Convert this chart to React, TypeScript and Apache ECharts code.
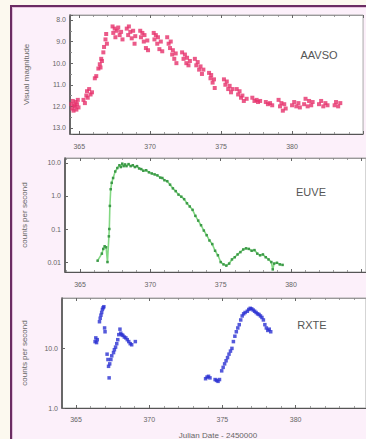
import React, { useEffect, useRef } from "react";
import * as echarts from "echarts";

// ---- data ----
const panelNames = ["AAVSO", "EUVE", "RXTE"];
const yTitles = ["Visual magnitude", "counts per second", "counts per second"];
const xTitle = "Julian Date - 2450000";

// AAVSO visual magnitudes [JD-2450000, mag]
const aavso: [number, number][] = [
  [364.45, 11.9], [364.5, 12.1], [364.55, 11.75], [364.6, 12.2], [364.65, 11.95], [364.7, 12.0],
  [364.75, 11.8], [364.8, 12.15], [364.85, 11.9], [364.9, 11.7], [364.95, 12.05],
  [365.3, 11.7], [365.4, 11.85], [365.5, 11.5], [365.55, 11.3], [365.6, 11.6], [365.7, 11.2],
  [365.8, 11.45], [365.9, 11.35],
  [366.1, 10.7], [366.2, 10.6],
  [366.35, 10.25], [366.45, 10.05], [366.5, 10.2], [366.55, 9.8], [366.6, 9.9], [366.7, 9.5],
  [366.75, 9.25], [366.85, 8.9], [366.9, 8.65], [366.95, 9.1],
  [367.35, 8.3], [367.4, 8.6], [367.5, 8.4], [367.55, 8.8], [367.65, 8.5], [367.75, 8.35],
  [367.85, 8.7], [367.95, 8.55], [368.05, 8.9],
  [368.35, 8.4], [368.45, 8.7], [368.5, 8.3], [368.6, 8.55], [368.7, 8.85], [368.8, 8.5],
  [368.9, 9.1], [368.95, 8.75],
  [369.3, 8.5], [369.35, 8.8], [369.45, 8.6], [369.55, 9.0], [369.6, 8.7], [369.7, 9.3],
  [369.8, 8.95], [369.85, 9.4],
  [370.25, 8.6], [370.3, 8.9], [370.4, 8.7], [370.5, 9.1], [370.55, 8.8], [370.65, 9.35],
  [370.75, 9.0], [370.85, 9.45],
  [371.2, 8.8], [371.3, 9.1], [371.4, 9.3], [371.45, 9.0], [371.55, 9.6], [371.6, 9.4],
  [371.7, 9.8], [371.8, 9.55], [371.85, 10.0],
  [372.25, 9.5], [372.35, 9.8], [372.45, 9.6], [372.55, 10.0], [372.6, 9.75], [372.7, 10.1],
  [372.8, 9.9],
  [373.15, 9.8], [373.25, 10.1], [373.35, 9.95], [373.45, 10.3], [373.55, 10.15], [373.65, 10.5],
  [373.75, 10.3],
  [374.15, 10.45], [374.25, 10.7], [374.3, 10.55], [374.4, 10.9], [374.5, 10.75], [374.55, 11.15],
  [375.2, 10.75], [375.3, 11.0], [375.4, 10.85], [375.5, 11.2], [375.6, 11.05], [375.7, 11.35],
  [375.8, 11.2],
  [376.1, 11.2], [376.2, 11.45], [376.3, 11.3], [376.4, 11.6], [376.5, 11.5], [376.6, 11.75],
  [376.8, 11.65],
  [377.2, 11.6], [377.35, 11.75], [377.5, 11.7], [377.6, 11.8], [377.75, 11.75],
  [378.15, 11.8], [378.3, 11.9], [378.45, 11.85], [378.6, 11.95],
  [379.05, 11.7], [379.15, 12.0], [379.25, 11.85], [379.35, 12.2], [379.45, 11.9], [379.55, 12.1],
  [380.0, 11.95], [380.15, 11.8], [380.3, 12.0], [380.45, 11.85], [380.55, 12.05],
  [380.85, 11.9], [380.95, 11.65], [381.1, 12.0], [381.2, 11.75], [381.35, 11.95], [381.45, 11.8],
  [381.9, 11.9], [382.05, 11.75], [382.2, 12.0], [382.35, 11.85], [382.5, 11.95],
  [383.0, 11.95], [383.1, 11.8], [383.25, 12.0], [383.4, 11.85],
];

// EUVE count rate [JD-2450000, counts/s]
const euve: [number, number][] = [
  [366.25, 0.011], [366.55, 0.018], [366.65, 0.025], [366.75, 0.03], [366.85, 0.028], [366.95, 0.01],
  [367.05, 0.06], [367.08, 0.1], [367.12, 0.5], [367.18, 1.6], [367.25, 2.5], [367.35, 3.5],
  [367.5, 5.5], [367.65, 7], [367.8, 8.5], [367.9, 7.5], [368.0, 9.5], [368.1, 8], [368.2, 9],
  [368.3, 8], [368.45, 9.2], [368.6, 8], [368.75, 8.5], [368.9, 7.5], [369.05, 8], [369.2, 6.8],
  [369.35, 6.5], [369.5, 5.8], [369.7, 6], [369.9, 5.2], [370.1, 4.8], [370.3, 4.5], [370.5, 4.2],
  [370.7, 3.6], [370.85, 3.5], [371.0, 3.0], [371.2, 2.8], [371.4, 2.2], [371.6, 1.7], [371.8, 1.4],
  [372.0, 1.1], [372.2, 0.95], [372.4, 0.8], [372.6, 0.6], [372.8, 0.48], [373.0, 0.38],
  [373.2, 0.25], [373.4, 0.18], [373.6, 0.13], [373.8, 0.09], [374.0, 0.065], [374.2, 0.045],
  [374.4, 0.035], [374.6, 0.022], [374.8, 0.016], [375.0, 0.01], [375.2, 0.0085], [375.4, 0.0078],
  [375.6, 0.009], [375.8, 0.012], [376.0, 0.014], [376.2, 0.017], [376.4, 0.02], [376.6, 0.024],
  [376.8, 0.026], [377.0, 0.025], [377.2, 0.022], [377.4, 0.023], [377.6, 0.018], [377.8, 0.016],
  [378.0, 0.017], [378.2, 0.014], [378.4, 0.012], [378.6, 0.01], [378.7, 0.006], [378.8, 0.009],
  [379.0, 0.0095], [379.2, 0.0085], [379.4, 0.0082],
];

// RXTE count rate [JD-2450000, counts/s]
const rxte: [number, number][] = [
  [366.3, 13], [366.35, 15], [366.4, 12.5], [366.45, 14],
  [366.6, 28], [366.65, 32], [366.7, 36], [366.75, 40], [366.8, 45], [366.85, 48], [366.9, 50],
  [366.95, 22], [366.98, 19],
  [367.12, 8], [367.18, 6.5], [367.22, 5], [367.26, 3.2], [367.3, 5.5], [367.38, 6.5], [367.44, 7.5],
  [367.56, 8.5], [367.62, 9.5], [367.7, 10.5], [367.78, 12], [367.85, 14], [367.92, 17], [368.0, 21],
  [368.05, 18], [368.12, 17], [368.2, 16.5], [368.3, 15.5], [368.4, 15], [368.5, 14], [368.6, 13],
  [368.7, 12], [368.8, 11.5], [369.05, 13],
  [373.85, 3.1], [373.95, 3.3], [374.05, 3.4], [374.15, 3.2],
  [374.5, 3.0], [374.6, 2.9], [374.7, 2.8], [374.8, 3.0],
  [374.95, 4.2], [375.05, 4.8], [375.15, 5.5], [375.25, 6.2], [375.35, 7], [375.45, 8], [375.55, 9],
  [375.65, 10], [375.75, 13], [375.85, 16], [375.95, 19], [376.05, 22], [376.15, 25], [376.25, 30],
  [376.35, 35], [376.45, 38], [376.55, 40], [376.7, 42], [376.8, 45], [376.9, 47], [377.0, 46],
  [377.1, 44], [377.2, 42], [377.3, 40], [377.4, 38], [377.5, 37], [377.6, 35], [377.7, 33],
  [377.8, 30], [377.9, 25], [378.0, 22], [378.1, 20], [378.2, 21], [378.3, 19],
];

// axis ranges (x max computed from width); labels shown only up to this value
const xMins = [364.35, 363.93, 364.04];
const xLabelMax = 382;
const yRanges: [number, number][] = [[7.77, 13.28], [0.005, 14.1], [1, 70]];

const FONT = "'Liberation Sans', Arial, sans-serif";
const grids = [
  { left: 70, top: 15, height: 119, pxPerDay: 15.3 },
  { left: 65, top: 158, height: 114, pxPerDay: 15.0 },
  { left: 62, top: 298, height: 110, pxPerDay: 15.6 },
];
const nameGaps = [40, 36.5, 33.5];
const labelMargins = [9, 9, 8];
const RIGHT_EDGE = 386;

function logFmt(v: number) {
  if (v >= 1) return v.toFixed(1);
  return String(Number(v.toPrecision(1)));
}

export default function App() {
  const ref = useRef<HTMLDivElement>(null);
  useEffect(() => {
    if (!ref.current) return;
    const chart = echarts.init(ref.current, null, { renderer: "svg" });
    const tickStyle = { inside: true, length: 3, lineStyle: { color: "#666", width: 1 } };
    const minor = { show: true, splitNumber: 5, length: 2, lineStyle: { color: "#888", width: 0.8 } };
    const xAxes: any[] = [];
    const yAxes: any[] = [];
    const widths = grids.map((g) => RIGHT_EDGE - g.left);
    const xMaxs = grids.map((g, i) => xMins[i] + widths[i] / g.pxPerDay);
    grids.forEach((g, i) => {
      xAxes.push({
        type: "value",
        gridIndex: i,
        min: xMins[i],
        max: xMaxs[i],
        position: "bottom",
        axisLine: { show: true, lineStyle: { color: "#555", width: 1.2 } },
        axisTick: tickStyle,
        minorTick: minor,
        splitLine: { show: false },
        axisLabel: {
          showMinLabel: false,
          showMaxLabel: false,
          fontSize: 7,
          color: "#666",
          fontFamily: FONT,
          margin: labelMargins[i],
          formatter: (v: number) => (v > xLabelMax ? "" : String(Math.round(v))),
        },
      });
      xAxes.push({
        type: "value",
        gridIndex: i,
        min: xMins[i],
        max: xMaxs[i],
        position: "top",
        axisLine: { show: true, lineStyle: { color: "#999", width: 1 } },
        axisTick: tickStyle,
        minorTick: minor,
        splitLine: { show: false },
        axisLabel: { show: false },
      });
      const isLog = i > 0;
      yAxes.push({
        type: isLog ? "log" : "value",
        gridIndex: i,
        min: yRanges[i][0],
        max: yRanges[i][1],
        inverse: !isLog,
        name: yTitles[i],
        nameLocation: "middle",
        nameGap: nameGaps[i],
        nameTextStyle: { fontSize: 8, color: "#666", fontFamily: FONT },
        axisLine: { show: true, lineStyle: { color: "#444", width: 1.5 } },
        axisTick: tickStyle,
        minorTick: isLog ? { show: false } : { show: true, splitNumber: 2, length: 2, lineStyle: { color: "#888" } },
        splitLine: { show: false },
        axisLabel: {
          showMinLabel: i === 2,
          showMaxLabel: false,
          fontSize: 7,
          color: "#666",
          fontFamily: FONT,
          margin: 4,
          formatter: (v: number) => (isLog ? logFmt(v) : v.toFixed(1)),
        },
      });
    });

    chart.setOption({
      animation: false,
      backgroundColor: "transparent",
      grid: grids.map((g, i) => ({
        left: g.left,
        top: g.top,
        height: g.height,
        width: widths[i],
        show: true,
        backgroundColor: "#ffffff",
        borderColor: "#aaa",
        borderWidth: 1,
      })),
      xAxis: xAxes,
      yAxis: yAxes,
      series: [
        {
          type: "scatter",
          xAxisIndex: 0,
          yAxisIndex: 0,
          data: aavso,
          symbol: "rect",
          symbolSize: 4,
          itemStyle: { color: "#e6316c" },
        },
        {
          type: "line",
          xAxisIndex: 2,
          yAxisIndex: 1,
          data: euve,
          symbol: "rect",
          symbolSize: 2.5,
          showSymbol: true,
          lineStyle: { color: "#82d882", width: 1.6 },
          itemStyle: { color: "#3c9a48" },
        },
        {
          type: "scatter",
          xAxisIndex: 4,
          yAxisIndex: 2,
          data: rxte,
          symbol: "rect",
          symbolSize: 3.5,
          itemStyle: { color: "#2a31d2" },
        },
      ],
      graphic: [
        { type: "text", x: 319, y: 55, style: { text: panelNames[0], align: "center", verticalAlign: "middle", fontSize: 11, fill: "#555", fontFamily: FONT } },
        { type: "text", x: 311, y: 192, style: { text: panelNames[1], align: "center", verticalAlign: "middle", fontSize: 11, fill: "#555", fontFamily: FONT } },
        { type: "text", x: 312, y: 325, style: { text: panelNames[2], align: "center", verticalAlign: "middle", fontSize: 11, fill: "#555", fontFamily: FONT } },
        { type: "text", x: 218, y: 435, style: { text: xTitle, align: "center", verticalAlign: "middle", fontSize: 8, fill: "#666", fontFamily: FONT } },
      ],
    });
    return () => chart.dispose();
  }, []);

  return (
    <div style={{ position: "fixed", left: 0, top: 0, width: 366, height: 439, background: "#fcf9ef", overflow: "hidden" }}>
      <div
        style={{
          position: "absolute",
          left: 10,
          top: 5,
          width: 400,
          height: 460,
          background: "#fcf0fa",
          border: "2px solid #6b2c63",
          boxShadow: "inset 0 0 0 1px #e3c2dc",
          boxSizing: "border-box",
        }}
      />
      <div ref={ref} style={{ position: "absolute", left: 0, top: 0, width: 366, height: 439 }} />
    </div>
  );
}
